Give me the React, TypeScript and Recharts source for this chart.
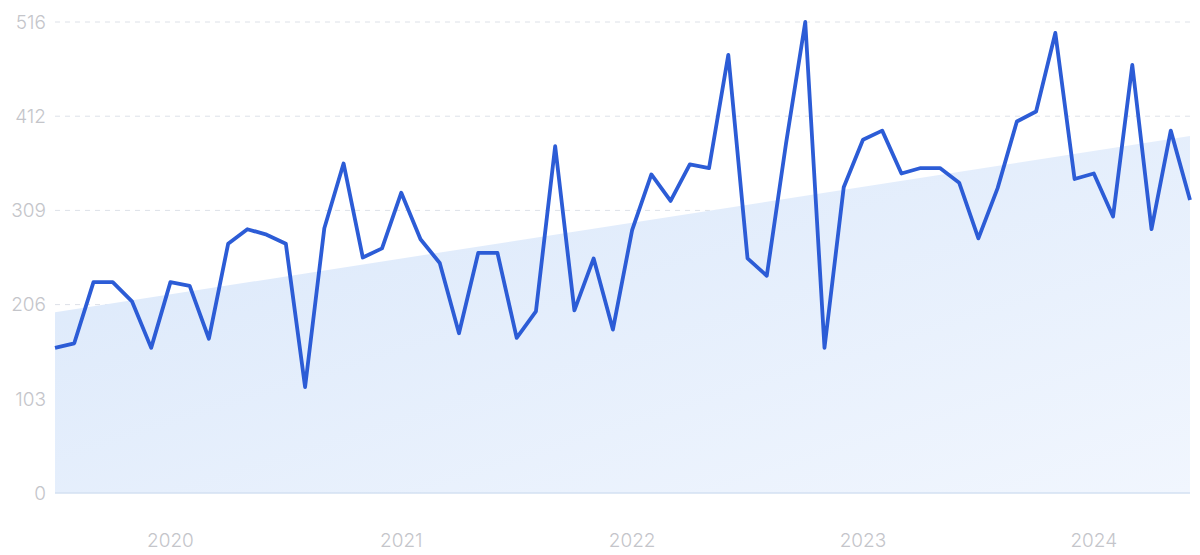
import React from "react";
import { ComposedChart, Line, Area, XAxis, YAxis, CartesianGrid } from "recharts";

// Monthly values, Jul 2019 .. Jun 2024
const values: number[] = [
  159, 164, 231, 231, 210, 159, 231, 227, 169, 273, 289, 283,
  273, 116, 290, 361, 258, 268, 329, 278, 252, 175, 263, 263,
  170, 199, 380, 200, 257, 179, 288, 349, 320, 360, 356, 480,
  257, 238, 383, 516, 159, 335, 387, 397, 350, 356, 356, 340,
  279, 334, 407, 418, 504, 344, 350, 303, 469, 289, 397, 321,
];

// Trend line end points (first and last month)
const trendStart = 198;
const trendEnd = 391;

const yTicks: number[] = [0, 103.2, 206.4, 309.6, 412.8, 516];
const yearTicks: number[] = [6, 18, 30, 42, 54];
const yearLabels: string[] = ["2020", "2021", "2022", "2023", "2024"];

const lineData = values.map((v, i) => ({ x: i, value: v }));
const trendData = [
  { x: 0, trend: trendStart },
  { x: values.length - 1, trend: trendEnd },
];

export default function App() {
  return (
    <div style={{ position: "absolute", left: 0, top: 0, width: 1200, height: 555, background: "#fff" }}>
      <ComposedChart
        width={1200}
        height={555}
        margin={{ top: 22, right: 10, bottom: 0, left: 0 }}
      >
        <defs>
          <linearGradient id="trendFill" x1="0" y1="0" x2="1" y2="1">
            <stop offset="0%" stopColor="#d9e7fa" />
            <stop offset="100%" stopColor="#f1f6fe" />
          </linearGradient>
        </defs>
        <CartesianGrid
          horizontal={true}
          vertical={false}
          stroke="#dde1e8"
          strokeDasharray="5 5"
          horizontalValues={yTicks.slice(1)}
        />
        <XAxis
          dataKey="x"
          type="number"
          domain={[0, values.length - 1]}
          ticks={yearTicks}
          tickFormatter={(v: number) => yearLabels[yearTicks.indexOf(v)] ?? ""}
          allowDuplicatedCategory={false}
          axisLine={{ stroke: "#d3e0f2", strokeWidth: 1.5 }}
          tickLine={false}
          tickMargin={35}
          height={62}
          tick={{ fill: "#c4c5ca", fontSize: 19, fontFamily: "Inter", fontWeight: 300 }}
        />
        <YAxis
          type="number"
          domain={[0, 516]}
          ticks={yTicks}
          interval={0}
          tickFormatter={(v: number) => String(Math.floor(v))}
          axisLine={false}
          tickLine={false}
          tickMargin={3}
          width={55}
          tick={{ fill: "#c4c5ca", fontSize: 19, fontFamily: "Inter", fontWeight: 300 }}
        />
        <Area
          data={trendData}
          dataKey="trend"
          type="linear"
          stroke="none"
          fill="url(#trendFill)"
          fillOpacity={1}
          isAnimationActive={false}
        />
        <Line
          data={lineData}
          dataKey="value"
          type="linear"
          stroke="#2c5cd6"
          strokeWidth={3.8}
          strokeLinejoin="round"
          dot={false}
          activeDot={false}
          isAnimationActive={false}
        />
      </ComposedChart>
    </div>
  );
}
